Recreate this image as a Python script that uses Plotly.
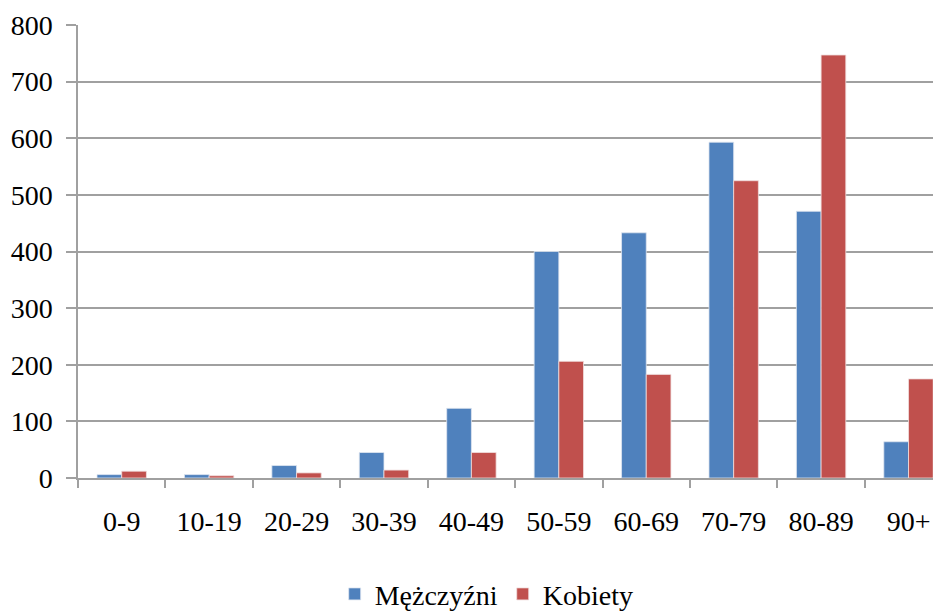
import plotly.graph_objects as go

categories = ["0-9", "10-19", "20-29", "30-39", "40-49", "50-59", "60-69", "70-79", "80-89", "90+"]
men = [6, 6, 22, 45, 123, 400, 433, 593, 471, 64]
women = [12, 4, 9, 14, 45, 206, 183, 525, 747, 175]
y_ticks = [0, 100, 200, 300, 400, 500, 600, 700, 800]

FONT = "Liberation Serif"

fig = go.Figure()
fig.add_trace(go.Bar(name="Mężczyźni", x=categories, y=men,
                     marker=dict(color="#4F81BD", line=dict(color="#dfe6f0", width=0.8))))
fig.add_trace(go.Bar(name="Kobiety", x=categories, y=women,
                     marker=dict(color="#C0504D", line=dict(color="#f0dede", width=0.8))))

fig.update_layout(
    width=933, height=612,
    margin=dict(l=78, r=0, t=25, b=133.5, autoexpand=False),
    paper_bgcolor="white", plot_bgcolor="white",
    barmode="group", bargap=0.435, bargroupgap=0,
    font=dict(family=FONT, size=28, color="black"),
    showlegend=True,
    legend=dict(orientation="h", x=0.478, xanchor="center", y=-0.2565, yanchor="middle",
                font=dict(family=FONT, size=28, color="black"),
                itemwidth=30, tracegroupgap=0, traceorder="normal"),
    xaxis=dict(type="category", range=[-0.5, 9.28], showgrid=False,
               showline=True, linecolor="#a0a0a0", linewidth=1.5,
               ticks="outside", tickson="boundaries", ticklen=8, tickcolor="#a0a0a0", tickwidth=1.5,
               ticklabelstandoff=18, ticklabeloverflow="allow",
               tickfont=dict(family=FONT, size=28, color="black")),
    yaxis=dict(range=[0, 800], tickvals=y_ticks, showgrid=True, gridcolor="#a0a0a0", gridwidth=1.5,
               showline=True, linecolor="#a0a0a0", linewidth=1.5, zeroline=False,
               ticks="outside", ticklen=10, tickcolor="#a0a0a0", tickwidth=1.5,
               ticklabelstandoff=8,
               tickfont=dict(family=FONT, size=28, color="black")),
)

fig.write_html("out.html",
               config={"displayModeBar": False},
               post_script="document.body.style.margin='0';document.body.style.overflow='hidden';")
